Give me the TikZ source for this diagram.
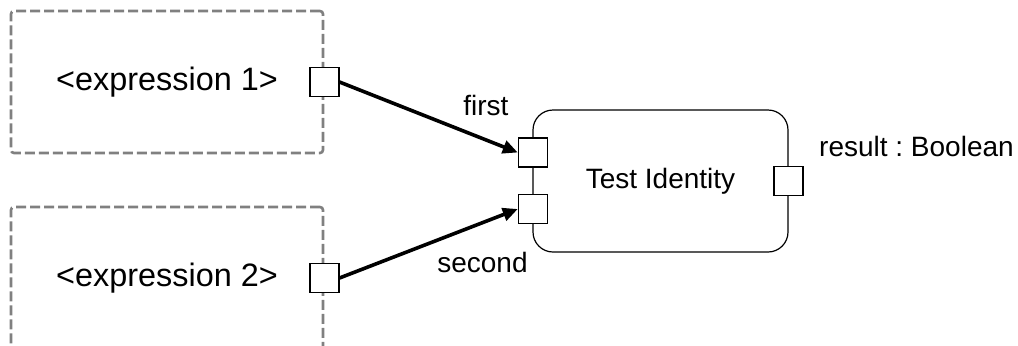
\documentclass[tikz,border=0pt]{standalone}
\usepackage{fontspec}
\setmainfont{Liberation Sans}
\usetikzlibrary{arrows.meta, positioning}

\begin{document}
\frenchspacing
\begin{tikzpicture}[x=0.5pt, y=-0.5pt,
  exprbox/.style={draw=black!50, line width=1.3pt, dash pattern=on 5pt off 2pt,
    rounded corners=1.5pt, minimum width=156pt, minimum height=71pt, inner sep=0,
    font=\fontsize{16.2}{19}\selectfont},
  action/.style={draw, line width=0.6pt, rounded corners=10pt,
    minimum width=127.5pt, minimum height=71pt, font=\fontsize{14}{17}\selectfont},
  pin/.style={draw, fill=white, line width=0.7pt, minimum size=14.5pt, inner sep=0},
  lbl/.style={inner sep=0, font=\fontsize{14}{17}\selectfont},
  flow/.style={-{Triangle[length=7.5pt, width=6.5pt]}, line width=1.8pt}]

  \clip (0,0) rectangle (1018,345);

  % expression boxes
  \node[exprbox] (expr1) at (167,82) {<expression 1>};
  \node[exprbox] (expr2) at (167,278) {<expression 2>};

  % the action
  \node[action] (test) at (660.5,181) {Test Identity};

  % pins
  \node[pin] (out1) at (expr1.east) {};
  \node[pin] (out2) at (expr2.east) {};
  \node[pin] (in1) at (533,152.5) {};
  \node[pin] (in2) at (533,209) {};
  \node[pin] (res) at (test.east) {};

  % flows
  \draw[flow] (out1.east) -- (in1.west);
  \draw[flow] (out2.east) -- (in2.west);

  % pin labels
  \node[lbl, above left=10.5pt and 4.5pt of in1] (lfirst) {first};
  \node[lbl, anchor=north east] (lsecond) at (528,252) {second};
  \node[lbl, above right=4.5pt and 7.5pt of res] (lresult) {result : Boolean};
\end{tikzpicture}
\end{document}
